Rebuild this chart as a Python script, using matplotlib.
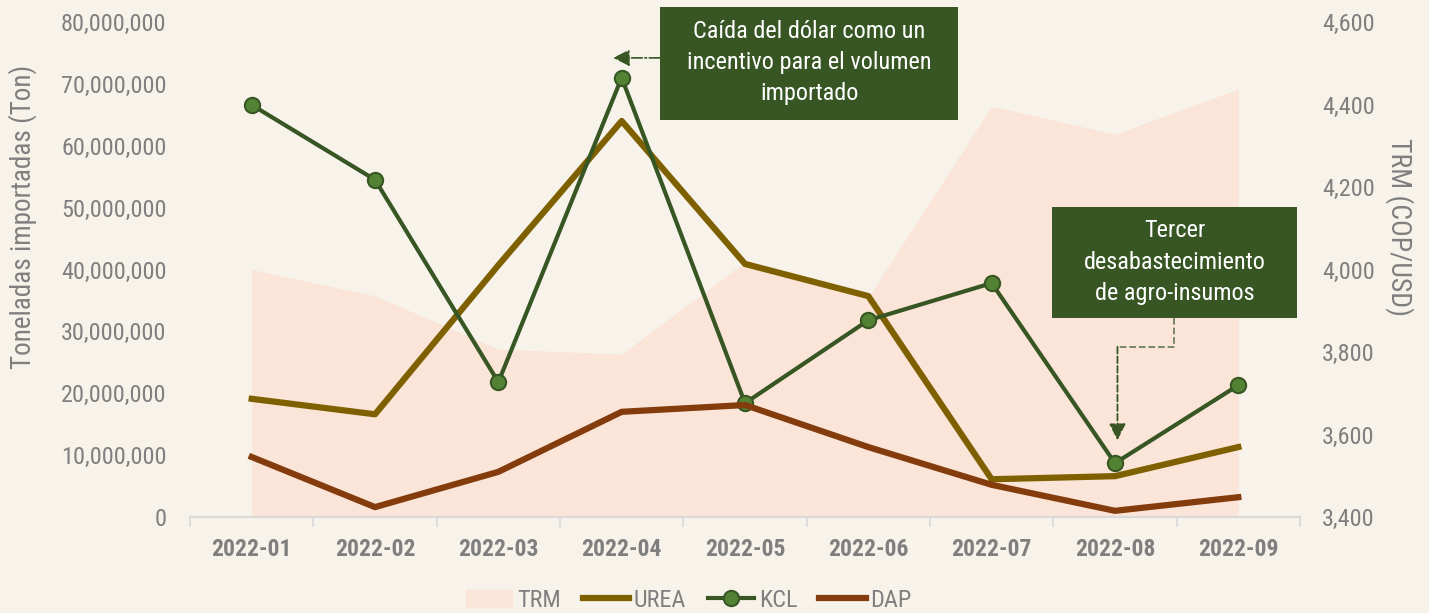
import numpy as np
import matplotlib.pyplot as plt
from matplotlib.ticker import FuncFormatter
from matplotlib.patches import Patch, Rectangle
from matplotlib.lines import Line2D

plt.rcParams['font.family'] = ['Roboto Condensed', 'Liberation Sans Narrow',
                               'Liberation Sans', 'DejaVu Sans']

meses = ['2022-01', '2022-02', '2022-03', '2022-04', '2022-05',
         '2022-06', '2022-07', '2022-08', '2022-09']
trm = [4000, 3936, 3807, 3795, 4018, 3933, 4396, 4328, 4438]
urea = [19.1e6, 16.6e6, 40.7e6, 64.0e6, 40.9e6, 35.7e6, 6.1e6, 6.6e6, 11.3e6]
kcl = [66.6e6, 54.5e6, 21.8e6, 71.0e6, 18.4e6, 31.8e6, 37.8e6, 8.7e6, 21.3e6]
dap = [9.7e6, 1.6e6, 7.3e6, 17.0e6, 18.1e6, 11.3e6, 5.2e6, 1.0e6, 3.2e6]

bg = '#F7F3EA'
gris = '#7F7F7F'
verde = '#375623'

fig = plt.figure(figsize=(14.29, 6.13), dpi=100, facecolor=bg)
ax = fig.add_axes([0.133, 0.1566, 0.7767, 0.8075])
ax2 = ax.twinx()
ax.set_facecolor('none')
ax2.set_facecolor('none')
# area del TRM detras de las lineas
ax.set_zorder(2)
ax2.set_zorder(1)

x = np.arange(len(meses))
ax2.fill_between(x, 3400, trm, color='#FAE5D8', lw=0)
ax2.set_ylim(3400, 4600)
ax2.set_yticks(np.arange(3400, 4601, 200))

ax.plot(x, urea, color='#7F6000', lw=4.5)
ax.plot(x, kcl, color=verde, lw=3, marker='o', ms=11,
        mfc='#548235', mec=verde, mew=1.5)
ax.plot(x, dap, color='#843C0C', lw=4.5)

ax.set_xlim(-0.5, 8.5)
ax.set_ylim(0, 80e6)
ax.set_yticks(np.arange(0, 80e6 + 1, 10e6))
ax.yaxis.set_major_formatter(FuncFormatter(lambda v, p: f'{v:,.0f}'))
ax2.yaxis.set_major_formatter(FuncFormatter(lambda v, p: f'{v:,.0f}'))
ax.set_xticks(x)
ax.set_xticklabels(meses, fontsize=17, fontweight='bold', color=gris)
ax.set_xticks(np.arange(-0.5, 9, 1), minor=True)
ax.tick_params(axis='x', which='major', length=0, pad=15)
ax.tick_params(axis='x', which='minor', length=7, color='#D9D9D9', width=1.2)
ax.tick_params(axis='y', length=0, labelsize=17.5, labelcolor=gris, pad=17)
ax2.tick_params(axis='y', length=0, labelsize=17.5, labelcolor=gris, pad=16)

for a in (ax, ax2):
    for s in a.spines.values():
        s.set_visible(False)
ax.spines['bottom'].set_visible(True)
ax.spines['bottom'].set_color('#D9D9D9')
ax.spines['bottom'].set_linewidth(1.5)

ax.set_ylabel('Toneladas importadas (Ton)', fontsize=19.5, color=gris,
              va='center', ha='center')
ax.yaxis.set_label_coords(-0.1509, 0.606)
ax2.set_ylabel('TRM (COP/USD)', fontsize=20, color=gris, rotation=270,
               va='center', ha='center')
ax2.yaxis.set_label_coords(1.090, 0.586)

# anotacion 1
ax.add_patch(Rectangle((3.31, 64.2e6), 2.42, 18.2e6, fc=verde, ec='none',
                       clip_on=False, zorder=5))
ax.text(4.52, 73.4e6, 'Caída del dólar como un\nincentivo para el volumen\nimportado',
        ha='center', va='center', fontsize=17.5, color='white', linespacing=1.45,
        zorder=6)
ax.annotate('', xy=(2.93, 74.2e6), xytext=(3.31, 74.2e6),
            arrowprops=dict(arrowstyle='-|>,head_length=1.0,head_width=0.5',
                            color=verde, ls='-.', lw=1.2, shrinkA=0, shrinkB=0))

# anotacion 2
ax.add_patch(Rectangle((6.49, 32.2e6), 1.99, 17.9e6, fc=verde, ec='none',
                       clip_on=False, zorder=5))
ax.text(7.485, 41.2e6, 'Tercer\ndesabastecimiento\nde agro-insumos',
        ha='center', va='center', fontsize=17.5, color='white', linespacing=1.45,
        zorder=6)
ax.plot([7.48, 7.48, 7.02], [32.2e6, 27.5e6, 27.5e6], color='#6E7F5E',
        ls='--', lw=1.3)
ax.annotate('', xy=(7.02, 12.4e6), xytext=(7.02, 27.5e6),
            arrowprops=dict(arrowstyle='-|>,head_length=1.0,head_width=0.5',
                            color=verde, ls='--', lw=1.3, shrinkA=0, shrinkB=0))

# leyenda
handles = [Patch(color='#FAE5D8'),
           Line2D([], [], color='#7F6000', lw=4.5),
           Line2D([], [], color=verde, lw=3, marker='o', ms=11,
                  mfc='#548235', mec=verde, mew=1.5),
           Line2D([], [], color='#843C0C', lw=4.5)]
fig.legend(handles, ['TRM', 'UREA', 'KCL', 'DAP'], loc='center',
           bbox_to_anchor=(0.482, 0.021), ncol=4, frameon=False, fontsize=17.5,
           labelcolor=gris, handlelength=1.9, handletextpad=0.2,
           columnspacing=0.9, borderpad=0)

fig.savefig('out.png', dpi=100, facecolor=bg)
